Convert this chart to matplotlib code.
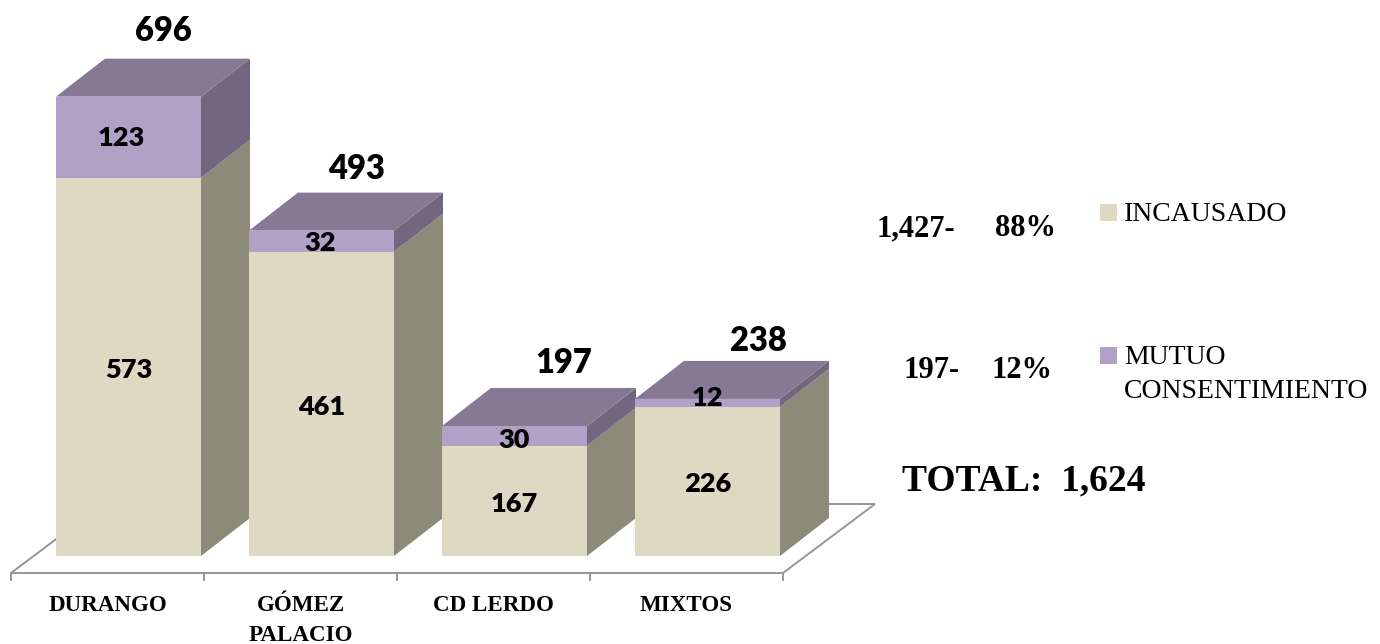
import matplotlib
matplotlib.use("Agg")
import matplotlib.pyplot as plt
from matplotlib.patches import Polygon, Rectangle

# ── data ──────────────────────────────
CATEGORIES = ["DURANGO", "GÓMEZ\nPALACIO", "CD LERDO", "MIXTOS"]
INCAUSADO = [573, 461, 167, 226]
MUTUO = [123, 32, 30, 12]
TOTALS = [696, 493, 197, 238]
SERIES_NAMES = ["INCAUSADO", "MUTUO\nCONSENTIMIENTO"]
SERIES_SUMMARY = ["1,427-", "197-"]
SERIES_PCT = ["88%", "12%"]
GRAND_TOTAL = "TOTAL:  1,624"

# ── geometry (pixels of the 1380x644 canvas) ──
W, H = 1380, 644
PX_PER_CAT = 193.0
PX_PER_UNIT = 0.66
BASE_PX = 556.0
BAR_W = 145 / PX_PER_CAT
DEPTH_X = 49 / PX_PER_CAT
DEPTH_Y = 38 / PX_PER_UNIT
FIRST_BAR_PX = 128.5

# colours: front, side, top
BEIGE = ("#DDD9C3", "#8C8B7A", "#8C8B7A")
PURPLE = ("#B2A1C7", "#71677F", "#877893")
FLOOR = "#969696"

SANS = "Lato"
SERIF = "Liberation Serif"

fig = plt.figure(figsize=(W / 100, H / 100), dpi=100, facecolor="white")
ax = fig.add_axes([0, 0, 1, 1])
ax.set_xlim(-FIRST_BAR_PX / PX_PER_CAT, (W - FIRST_BAR_PX) / PX_PER_CAT)
ax.set_ylim((BASE_PX - H) / PX_PER_UNIT, BASE_PX / PX_PER_UNIT)
ax.axis("off")


def px(x, y):
    # canvas pixel -> figure fraction, for the text outside the bars
    return x / W, 1 - y / H


# ── floor and axis ────────────────────
FLOOR_X0 = -0.5 - 21 / PX_PER_CAT
FLOOR_Y0 = -17 / PX_PER_UNIT
FLOOR_DX = 92 / PX_PER_CAT
FLOOR_DY = 69 / PX_PER_UNIT
n = len(CATEGORIES)
ax.add_patch(Polygon(
    [(FLOOR_X0, FLOOR_Y0), (FLOOR_X0 + n, FLOOR_Y0),
     (FLOOR_X0 + n + FLOOR_DX, FLOOR_Y0 + FLOOR_DY),
     (FLOOR_X0 + FLOOR_DX, FLOOR_Y0 + FLOOR_DY)],
    closed=True, fill=False, edgecolor=FLOOR, linewidth=1.4, zorder=1))
for i in range(n + 1):
    ax.plot([FLOOR_X0 + i] * 2, [FLOOR_Y0, FLOOR_Y0 - 7 / PX_PER_UNIT],
            color=FLOOR, linewidth=1.4, zorder=1)


def draw_block(x0, y0, y1, colours, top=False, z=2):
    x1 = x0 + BAR_W
    ax.add_patch(Rectangle((x0, y0), BAR_W, y1 - y0, facecolor=colours[0],
                           edgecolor="none", zorder=z))
    ax.add_patch(Polygon(
        [(x1, y0), (x1 + DEPTH_X, y0 + DEPTH_Y),
         (x1 + DEPTH_X, y1 + DEPTH_Y), (x1, y1)],
        closed=True, facecolor=colours[1], edgecolor="none", zorder=z))
    if top:
        ax.add_patch(Polygon(
            [(x0, y1), (x1, y1), (x1 + DEPTH_X, y1 + DEPTH_Y),
             (x0 + DEPTH_X, y1 + DEPTH_Y)],
            closed=True, facecolor=colours[2], edgecolor="none", zorder=z))


# ── bars ──────────────────────────────
for i in range(n):
    x0 = i - BAR_W / 2
    draw_block(x0, 0, INCAUSADO[i], BEIGE, z=2 + i)
    draw_block(x0, INCAUSADO[i], INCAUSADO[i] + MUTUO[i], PURPLE, top=True, z=2 + i)

# ── value labels ──────────────────────
# shifts are pixels right / up from the anchor
INC_SHIFT = [(0, -3), (0, -3), (0, -3), (0, -3)]
MUTUO_SHIFT = [(-7, -1), (-1, -2), (0, -4), (0, 5)]
TOTAL_SHIFT = [(35, 66), (35, 62), (49, 63), (51, 58)]
lab = dict(ha="center", va="center", family=SANS, fontweight="heavy",
           color="black", zorder=20, textcoords="offset points")
for i in range(n):
    ax.annotate(str(INCAUSADO[i]), (i, INCAUSADO[i] / 2),
                xytext=(INC_SHIFT[i][0] * 0.72, INC_SHIFT[i][1] * 0.72),
                fontsize=19.5, **lab)
    ax.annotate(str(MUTUO[i]), (i, INCAUSADO[i] + MUTUO[i] / 2),
                xytext=(MUTUO_SHIFT[i][0] * 0.72, MUTUO_SHIFT[i][1] * 0.72),
                fontsize=19.5, **lab)
    ax.annotate(str(TOTALS[i]), (i, INCAUSADO[i] + MUTUO[i]),
                xytext=(TOTAL_SHIFT[i][0] * 0.72, TOTAL_SHIFT[i][1] * 0.72),
                fontsize=23.5, **lab)

# ── category labels ───────────────────
for i, name in enumerate(CATEGORIES):
    ax.text(FLOOR_X0 + i + 0.5, (BASE_PX - 595) / PX_PER_UNIT, name,
            ha="center", va="top", family=SERIF, fontweight="bold",
            fontsize=16.6, linespacing=1.56, color="black")

# ── legend and summary text ───────────
legend_y = [212, 355]
text_y = [202, 345]
summary_y = [229, 370]
summary_x = [877, 903]
pct_x = [995, 992]
for i, name in enumerate(SERIES_NAMES):
    x, y = px(1100, legend_y[i] + 9)
    fig.add_artist(Rectangle((x, y), 17 / W, 17 / H, transform=fig.transFigure,
                             facecolor=(BEIGE, PURPLE)[i][0], edgecolor="none"))
    x, y = px(1124, text_y[i])
    fig.text(x, y, name, ha="left", va="top", family=SERIF, fontsize=20,
             linespacing=1.45, color="black")
    x, y = px(summary_x[i], summary_y[i])
    fig.text(x, y, SERIES_SUMMARY[i], ha="left", va="center", family=SERIF,
             fontweight="bold", fontsize=22, color="black")
    x, y = px(pct_x[i], summary_y[i])
    fig.text(x, y, SERIES_PCT[i], ha="left", va="center", family=SERIF,
             fontweight="bold", fontsize=22, color="black")

x, y = px(1024, 481)
fig.text(x, y, GRAND_TOTAL, ha="center", va="center", family=SERIF,
         fontweight="bold", fontsize=27, color="black")

fig.savefig("out.png", dpi=100, facecolor="white")
plt.close(fig)
